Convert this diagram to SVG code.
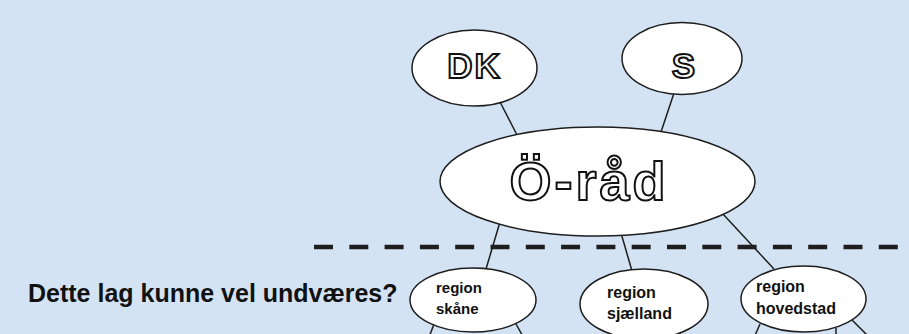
<svg xmlns="http://www.w3.org/2000/svg" width="909" height="334" viewBox="0 0 909 334">
<style>
.bg{fill:#d3e3f4}
.node ellipse{fill:#fff;stroke:#1e1e1e;stroke-width:1.5}
.conn line{stroke:#1e1e1e;stroke-width:1.5}
.outl{font-family:"Liberation Sans",Arial,sans-serif;font-weight:bold;fill:#fff;stroke:#111;stroke-width:2;text-anchor:middle}
.lbl{font-family:"Liberation Sans",Arial,sans-serif;font-weight:bold;fill:#111}
.dash{stroke:#1e1e1e;stroke-width:4.5;stroke-dasharray:19 16.3}
</style>
<rect class="bg" x="0" y="0" width="909" height="334"/>
<g id="connectors" class="conn">
<line x1="498" y1="98" x2="517" y2="135"/>
<line x1="675" y1="90" x2="661" y2="132"/>
<line x1="500" y1="222" x2="486" y2="269"/>
<line x1="621" y1="233" x2="632" y2="271"/>
<line x1="722" y1="213" x2="774" y2="269"/>
<line x1="434" y1="324" x2="428" y2="340"/>
<line x1="516" y1="324" x2="525" y2="340"/>
<line x1="682" y1="328" x2="677" y2="340"/>
<line x1="760" y1="324" x2="753" y2="340"/>
<line x1="836" y1="328" x2="836" y2="340"/>
<line x1="851" y1="319" x2="872" y2="340"/>
</g>
<line class="dash" x1="314" y1="247" x2="905" y2="247"/>
<g id="dk" class="node">
<ellipse cx="474.5" cy="68" rx="62.5" ry="38"/>
<text class="outl" x="474.5" y="78" font-size="35" letter-spacing="2">DK</text>
</g>
<g id="s" class="node">
<ellipse cx="682" cy="58.5" rx="60" ry="36"/>
<text class="outl" x="683.5" y="78" font-size="35">S</text>
</g>
<g id="oraad" class="node">
<ellipse cx="597.5" cy="181.5" rx="157.5" ry="54.5"/>
<text class="outl" x="589" y="200" font-size="54" letter-spacing="3">Ö-råd</text>
</g>
<g id="skaane" class="node">
<ellipse cx="473" cy="300" rx="63" ry="32"/>
<text class="lbl" x="436" y="293" font-size="15">region</text>
<text class="lbl" x="436" y="314" font-size="15">skåne</text>
</g>
<g id="sjaelland" class="node">
<ellipse cx="644" cy="304" rx="64" ry="35"/>
<text class="lbl" x="607" y="298" font-size="16">region</text>
<text class="lbl" x="607" y="319" font-size="16">sjælland</text>
</g>
<g id="hovedstad" class="node">
<ellipse cx="803.5" cy="299" rx="62.5" ry="33"/>
<text class="lbl" x="756" y="292" font-size="16">region</text>
<text class="lbl" x="756" y="314" font-size="16">hovedstad</text>
</g>
<text class="lbl" x="28" y="302" font-size="25">Dette lag kunne vel undværes?</text>
</svg>
